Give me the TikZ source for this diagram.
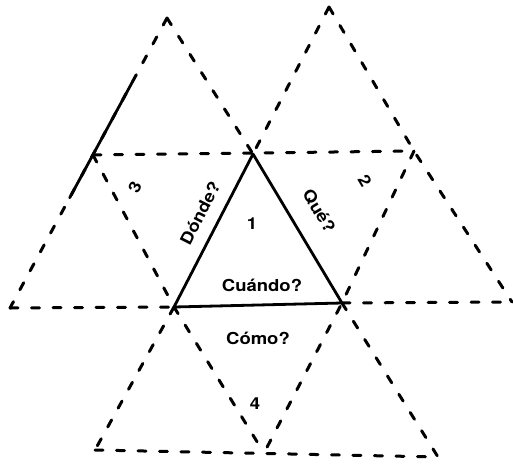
\documentclass[tikz,border=0pt]{standalone}
\usepackage{fontspec}
\newfontfamily\lblfont[FakeStretch=1.12]{TeX Gyre Heros}
\usetikzlibrary{calc}

\begin{document}
\begin{tikzpicture}[x=1pt,y=-1pt,
    cut/.style={line width=3pt,dash pattern=on 8pt off 13.5pt,line cap=round},
    fold/.style={line width=2.8pt,line cap=round,line join=round},
    lbl/.style={font=\lblfont\bfseries\fontsize{16.5}{19}\selectfont,inner sep=0pt}]
    \useasboundingbox (0,0) rectangle (513,463);

    % ---- lattice points (top apexes, then three rows) ----
    \coordinate (T1) at (167,18);
    \coordinate (T2) at (329,7);
    \coordinate (A0) at (93,155);
    \coordinate (A1) at (253,154);
    \coordinate (A2) at (414,151);
    \coordinate (B0) at (10,308);
    \coordinate (B1) at (174,307);
    \coordinate (B2) at (342,303);
    \coordinate (B3) at (512,302);
    \coordinate (C0) at (95,450);
    \coordinate (C1) at (264,453);
    \coordinate (C2) at (438,457);

    % ---- dashed lines ----
    \draw[cut] (T1) -- (B0);
    \draw[cut] (T2) -- (A1);
    \draw[cut] (B1) -- (C0);
    \draw[cut] (T1) -- (A1);
    \draw[cut] (B2) -- (C2);
    \draw[cut] (T2) -- (A2) -- (B3);
    \draw[cut] (A2) -- (B2) -- (C1);
    \draw[cut] (A0) -- (B1) -- (C1);
    % horizontals
    \draw[cut] (A0) -- (A2);
    \draw[cut] (B0) -- (B1);
    \draw[cut] (B2) -- (B3);
    \draw[cut] (C0) -- (C2);

    % ---- solid edges ----
    \draw[fold] ($(T1)!0.22!(B0)$) -- ($(T1)!0.62!(B0)$);
    \draw[fold] (A1) -- (B1) -- (B2) -- cycle;

    % ---- labels ----
    \node[lbl] (uno) at (252,224) {1};
    \node[lbl,rotate=-59] (dos) at (365,181) {2};
    \node[lbl,rotate=63] (tres) at (135,187) {3};
    \node[lbl] (cuatro) at (255,404) {4};
    \node[lbl,rotate=63] (donde) at (200,213) {Dónde?};
    \node[lbl,rotate=-59] (que) at (319,211) {Qué?};
    \node[lbl] (cuando) at (262,285) {Cuándo?};
    \node[lbl] (como) at (258,338) {Cómo?};
\end{tikzpicture}
\end{document}
